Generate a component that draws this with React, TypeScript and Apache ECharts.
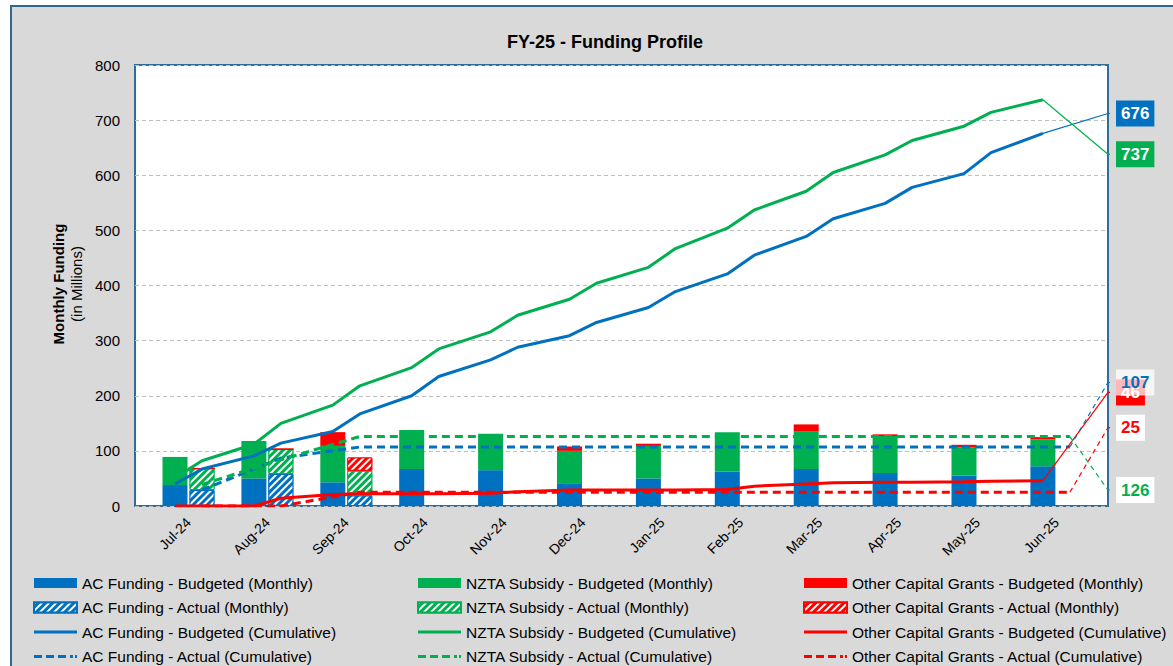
import React, { useEffect, useRef } from 'react';
import * as echarts from 'echarts';

// ---------- data ----------
const months = ['Jul-24', 'Aug-24', 'Sep-24', 'Oct-24', 'Nov-24', 'Dec-24', 'Jan-25', 'Feb-25', 'Mar-25', 'Apr-25', 'May-25', 'Jun-25'];
const yMin = 0;
const yMax = 800;
const yStep = 100;

// monthly (bars)
const acBudgetMonthly = [38, 50, 43, 67, 65, 40, 50, 62, 67, 60, 55, 72];
const nztaBudgetMonthly = [51, 68, 66, 71, 66, 60, 59, 72, 68, 67, 51, 49];
const otherBudgetMonthly = [0, 0, 25, 0, 0, 8, 4, 0, 13, 3, 5, 4];
const acActualMonthly = [29, 58, 19, null, null, null, null, null, null, null, null, null];
const nztaActualMonthly = [39, 45, 45, null, null, null, null, null, null, null, null, null];
const otherActualMonthly = [0, 0, 24, null, null, null, null, null, null, null, null, null];

// budgeted cumulative: two readings per month (at budgeted bar, at actual bar), ends at Jun budgeted
const acBudgetCum = [40, 67, 91, 114, 135, 167, 200, 235, 265, 288, 309, 333, 360, 389, 421, 455, 489, 521, 549, 578, 603, 641, 676];
const nztaBudgetCum = [51, 82, 112, 150, 183, 218, 251, 285, 316, 346, 375, 404, 433, 467, 504, 537, 571, 605, 637, 663, 689, 714, 737];
const otherBudgetCum = [0, 0, 0, 14, 21, 22, 22, 22, 23, 26, 29, 29, 29, 29, 30, 36, 40, 42, 43, 43, 44, 45, 46];

// actual cumulative: one reading per month (at actual bar)
const acActualCum = [29, 87, 107, 107, 107, 107, 107, 107, 107, 107, 107, 107];
const nztaActualCum = [39, 84, 126, 126, 126, 126, 126, 126, 126, 126, 126, 126];
const otherActualCum = [0, 0, 25, 25, 25, 25, 25, 25, 25, 25, 25, 25];

// end labels: shown text and the value where each label sits at the right edge
const endLabelText = [676, 737, 107, 46, 25, 126];
const endLabelAnchor = [712, 638, 224, 206, 142, 29];

// ---------- layout / style ----------
const BLUE = '#0070C0';
const GREEN = '#00B050';
const RED = '#FF0000';
const FONT = "'Liberation Sans', Arial, sans-serif";
const NARROW = "'Liberation Sans Narrow', 'Liberation Sans', Arial, sans-serif";

const PLOT_LEFT = 135;
const PLOT_TOP = 65;
const PLOT_W = 973;
const PLOT_H = 441;
const STEP = 78.9; // px per month
const FIRST_BUDGET_PX = 175; // centre of the first budgeted bar
const BAR_W = 25;
const BAR_GAP = 2;
const ACTUAL_OFF = (BAR_W + BAR_GAP) / STEP;
const X_MIN = (PLOT_LEFT - FIRST_BUDGET_PX) / STEP;
const X_MAX = (PLOT_LEFT + PLOT_W - FIRST_BUDGET_PX) / STEP;
const CAT_LEFT = FIRST_BUDGET_PX + (BAR_W + BAR_GAP) / 2 - STEP / 2;
const TICK = 5 / STEP;

const SOLID_ICON = 'path://M0,0H43V3H0Z';
const DASH_ICON = 'path://M0,0H8V3H0Z M12,0H20V3H12Z M24,0H32V3H24Z M36,0H39V3H36Z M41,0H43V3H41Z';

const halfMonthX = (i: number) => Math.floor(i / 2) + (i % 2 ? ACTUAL_OFF : 0);

const hatch = (c: string) => ({
  color: c,
  borderColor: c,
  borderWidth: 1,
  decal: {
    symbol: 'rect',
    symbolSize: 1,
    color: '#ffffff',
    dashArrayX: [1, 0],
    dashArrayY: [2, 3],
    rotation: -Math.PI / 4,
  },
});

export default function App() {
  const ref = useRef<HTMLDivElement>(null);

  useEffect(() => {
    if (!ref.current) return;
    const chart = echarts.init(ref.current, undefined, { renderer: 'svg' });

    const budgetLine = (name: string, vals: number[], color: string) => ({
      name,
      type: 'line',
      xAxisIndex: 0,
      yAxisIndex: 0,
      symbol: 'none',
      z: 5,
      lineStyle: { color, width: 3 },
      itemStyle: { color },
      data: vals.map((v, i) => [halfMonthX(i), v]),
    });
    const actualLine = (name: string, vals: number[], color: string) => ({
      name,
      type: 'line',
      xAxisIndex: 0,
      yAxisIndex: 0,
      symbol: 'none',
      z: 5,
      lineStyle: { color, width: 3, type: [8, 5] },
      itemStyle: { color },
      data: vals.map((v, i) => [i + ACTUAL_OFF, v]),
    });

    const leader = (
      idx: number,
      from: [number, number],
      color: string,
      dashed: boolean,
      label: any,
      z: number
    ) => ({
      name: 'leader' + idx,
      type: 'line',
      xAxisIndex: 0,
      yAxisIndex: 0,
      symbol: 'none',
      clip: false,
      z,
      silent: true,
      lineStyle: { color, width: 1.2, type: dashed ? [5, 4] : 'solid' },
      endLabel: {
        show: true,
        distance: 6,
        formatter: String(endLabelText[idx]),
        fontFamily: FONT,
        fontWeight: 'bold',
        fontSize: 17,
        padding: [5, 5, 4, 5],
        ...label,
      },
      data: [from, [X_MAX, endLabelAnchor[idx]], [X_MAX + TICK, endLabelAnchor[idx]]],
    });

    const lastB = acBudgetCum.length - 1;
    const lastBX = halfMonthX(lastB);
    const lastA = acActualCum.length - 1;
    const lastAX = lastA + ACTUAL_OFF;

    const names = {
      acB: 'AC Funding - Budgeted (Monthly)',
      acA: 'AC Funding - Actual (Monthly)',
      acBC: 'AC Funding - Budgeted (Cumulative)',
      acAC: 'AC Funding - Actual (Cumulative)',
      nzB: 'NZTA Subsidy - Budgeted (Monthly)',
      nzA: 'NZTA Subsidy - Actual (Monthly)',
      nzBC: 'NZTA Subsidy - Budgeted (Cumulative)',
      nzAC: 'NZTA Subsidy - Actual (Cumulative)',
      otB: 'Other Capital Grants - Budgeted (Monthly)',
      otA: 'Other Capital Grants - Actual (Monthly)',
      otBC: 'Other Capital Grants - Budgeted (Cumulative)',
      otAC: 'Other Capital Grants - Actual (Cumulative)',
    };

    const legendBlock = (left: number, items: string[]) => ({
      orient: 'vertical',
      left,
      top: 575,
      height: 110,
      padding: 0,
      itemWidth: 43,
      itemHeight: 10,
      itemGap: 8.5,
      selectedMode: false,
      textStyle: { fontFamily: FONT, fontSize: 15.5, color: '#000', lineHeight: 16 },
      data: items.map((n, i) => ({
        name: n,
        icon: i < 2 ? 'rect' : i === 2 ? SOLID_ICON : DASH_ICON,
      })),
    });

    const option: any = {
      animation: false,
      backgroundColor: 'transparent',
      title: {
        text: 'FY-25 - Funding Profile',
        left: 600,
        top: 28,
        textAlign: 'center',
        textStyle: { fontFamily: NARROW, fontWeight: 'bold', fontSize: 18, color: '#000' },
      },
      graphic: [
        {
          type: 'rect',
          z: -100,
          shape: { x: 11, y: 6, width: 1200, height: 700 },
          style: { fill: '#D9D9D9', stroke: '#2E6A8E', lineWidth: 2 },
        },
        {
          type: 'text',
          x: 58,
          y: 284,
          rotation: Math.PI / 2,
          style: {
            text: 'Monthly Funding',
            fontFamily: FONT,
            fontWeight: 'bold',
            fontSize: 15,
            fill: '#000',
            align: 'center',
            verticalAlign: 'middle',
          },
        },
        {
          type: 'text',
          x: 76,
          y: 284,
          rotation: Math.PI / 2,
          style: {
            text: '(in Millions)',
            fontFamily: FONT,
            fontSize: 15,
            fill: '#000',
            align: 'center',
            verticalAlign: 'middle',
          },
        },
      ],
      legend: [
        legendBlock(33, [names.acB, names.acA, names.acBC, names.acAC]),
        legendBlock(417, [names.nzB, names.nzA, names.nzBC, names.nzAC]),
        legendBlock(803, [names.otB, names.otA, names.otBC, names.otAC]),
      ],
      grid: [
        {
          left: PLOT_LEFT,
          top: PLOT_TOP,
          width: PLOT_W,
          height: PLOT_H,
          show: true,
          backgroundColor: '#ffffff',
          borderColor: '#2F6E9A',
          borderWidth: 2,
        },
        {
          left: CAT_LEFT,
          top: PLOT_TOP,
          width: STEP * months.length,
          height: PLOT_H,
        },
      ],
      xAxis: [
        { type: 'value', gridIndex: 0, min: X_MIN, max: X_MAX, show: false },
        {
          type: 'category',
          gridIndex: 1,
          data: months,
          boundaryGap: true,
          axisLine: { show: false },
          axisTick: { show: false },
          axisLabel: {
            interval: 0,
            rotate: 45,
            margin: 14,
            fontFamily: FONT,
            fontSize: 14,
            color: '#000',
          },
        },
      ],
      yAxis: [
        {
          type: 'value',
          gridIndex: 0,
          min: yMin,
          max: yMax,
          interval: yStep,
          axisLine: { show: false },
          axisTick: { show: false },
          axisLabel: { margin: 15, fontFamily: FONT, fontSize: 15, color: '#000' },
          splitLine: { show: true, lineStyle: { color: '#BFBFBF', width: 1, type: [4, 3] } },
        },
        { type: 'value', gridIndex: 1, min: yMin, max: yMax, interval: yStep, show: false },
      ],
      series: [
        { name: names.acB, type: 'bar', xAxisIndex: 1, yAxisIndex: 1, stack: 'budget', barWidth: BAR_W, barGap: (BAR_GAP / BAR_W) * 100 + '%', itemStyle: { color: BLUE }, data: acBudgetMonthly },
        { name: names.nzB, type: 'bar', xAxisIndex: 1, yAxisIndex: 1, stack: 'budget', barWidth: BAR_W, itemStyle: { color: GREEN }, data: nztaBudgetMonthly },
        { name: names.otB, type: 'bar', xAxisIndex: 1, yAxisIndex: 1, stack: 'budget', barWidth: BAR_W, itemStyle: { color: RED }, data: otherBudgetMonthly },
        { name: names.acA, type: 'bar', xAxisIndex: 1, yAxisIndex: 1, stack: 'actual', barWidth: BAR_W, itemStyle: hatch(BLUE), data: acActualMonthly },
        { name: names.nzA, type: 'bar', xAxisIndex: 1, yAxisIndex: 1, stack: 'actual', barWidth: BAR_W, itemStyle: hatch(GREEN), data: nztaActualMonthly },
        { name: names.otA, type: 'bar', xAxisIndex: 1, yAxisIndex: 1, stack: 'actual', barWidth: BAR_W, itemStyle: hatch(RED), data: otherActualMonthly },

        actualLine(names.otAC, otherActualCum, RED),
        actualLine(names.acAC, acActualCum, BLUE),
        actualLine(names.nzAC, nztaActualCum, GREEN),
        budgetLine(names.otBC, otherBudgetCum, RED),
        budgetLine(names.nzBC, nztaBudgetCum, GREEN),
        budgetLine(names.acBC, acBudgetCum, BLUE),

        leader(0, [lastBX, acBudgetCum[lastB]], BLUE, false, { color: '#fff', backgroundColor: BLUE }, 6),
        leader(1, [lastBX, nztaBudgetCum[lastB]], GREEN, false, { color: '#fff', backgroundColor: GREEN }, 6),
        leader(3, [lastBX, otherBudgetCum[lastB]], RED, false, { color: '#fff', backgroundColor: RED }, 6),
        leader(4, [lastAX, otherActualCum[lastA]], RED, true, { color: RED, backgroundColor: '#fff' }, 6),
        leader(5, [lastAX, nztaActualCum[lastA]], GREEN, true, { color: GREEN, backgroundColor: '#fff' }, 6),
        leader(2, [lastAX, acActualCum[lastA]], BLUE, true, { color: BLUE, backgroundColor: 'rgba(255,255,255,0.72)' }, 8),
      ],
    };

    chart.setOption(option);
    return () => chart.dispose();
  }, []);

  return (
    <div
      ref={ref}
      style={{ position: 'fixed', left: 0, top: 0, width: 1173, height: 666, background: '#fff' }}
    />
  );
}
